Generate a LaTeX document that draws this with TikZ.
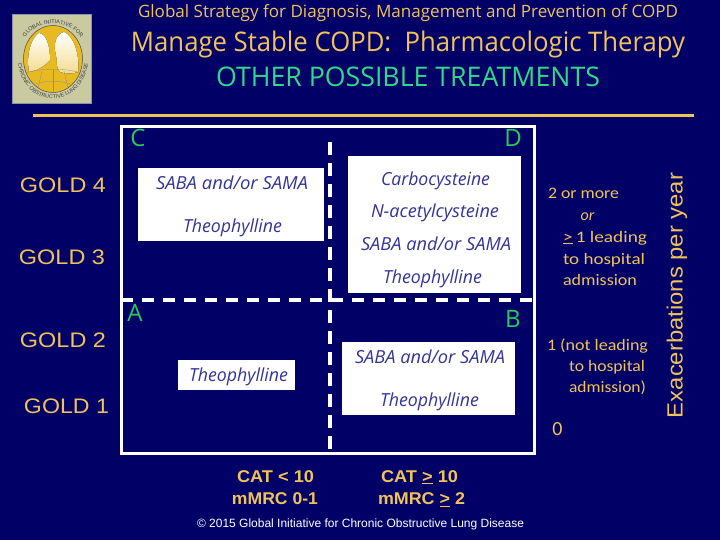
\documentclass[tikz,border=0pt]{standalone}
\usepackage{graphicx}
\usepackage{fontspec}
\setmainfont{Liberation Sans}
\newfontfamily\tahomaish{Open Sans}
\newfontfamily\calibriish{Carlito}
\usetikzlibrary{decorations.text}
\definecolor{bgblue}{HTML}{000066}
\definecolor{goldtxt}{HTML}{F0C35A}
\definecolor{titlegreen}{HTML}{2FD88C}
\definecolor{lettergreen}{HTML}{24CC5A}
\definecolor{drugblue}{HTML}{333399}
\definecolor{logobg}{HTML}{C9C9A2}
\definecolor{logoedge}{HTML}{8C92A8}
\definecolor{lungyellow}{HTML}{E8BA22}
\newcommand{\fitw}[2]{\resizebox{#1pt}{\height}{#2}}
\newcommand{\fs}[1]{\fontsize{#1}{#1}\selectfont}
\tikzset{
  lbl/.style={inner sep=0pt,anchor=base},
  gold/.style={lbl,text=goldtxt},
  goldlevel/.style={gold,font=\fs{21}},
  cattext/.style={gold,font=\bfseries\fs{17}},
  exa/.style={gold,font=\calibriish\fs{16}},
  grouplet/.style={lbl,text=lettergreen,font=\tahomaish\fs{24}},
  drug/.style={lbl,text=drugblue,font=\tahomaish\itshape\fs{18}},
  whitebox/.style={fill=white,draw=none},
  frameline/.style={draw=white,line width=3pt},
  vdash/.style={draw=white,line width=4pt,dash pattern=on 13pt off 8pt},
  hdash/.style={draw=white,line width=4.5pt,dash pattern=on 12pt off 9pt}
}
\begin{document}
\begin{tikzpicture}[x=1pt,y=-1pt]
\useasboundingbox (0,0) rectangle (720,540);
\fill[bgblue] (0,0) rectangle (720,540);
% logo
\fill[logobg,draw=logoedge,line width=0.6pt] (12.5,14.5) rectangle (91.5,103.5);
\fill[lungyellow,draw=black!70,line width=0.5pt] (53,59) ellipse [x radius=29.5,y radius=33.5];
\fill[top color=white,bottom color=lungyellow!50!white]
  (39,33) .. controls (31,38) and (26,55) .. (29,72) .. controls (36,71) and (44,67) .. (50,60)
  .. controls (50,48) and (47,34) .. (39,33) -- cycle;
\fill[top color=white,bottom color=lungyellow!50!white]
  (64,32) .. controls (56,34) and (53,44) .. (56,55) .. controls (58,62) and (55,66) .. (60,72)
  .. controls (66,74) and (72,74) .. (78,72) .. controls (80,56) and (74,36) .. (64,32) -- cycle;
\draw[black!45,line width=0.3pt] (25,73) .. controls (40,68) and (66,68) .. (81,73);
\draw[black!45,line width=0.3pt] (33,85) .. controls (45,80) and (61,80) .. (73,85);
\draw[black!45,line width=0.3pt] (53,70) -- (53,92);
\draw[black!45,line width=0.3pt] (42,71) -- (38,88);
\draw[black!45,line width=0.3pt] (64,71) -- (68,88);
\begin{scope}[y=1pt]
\path[decorate,decoration={text along path,text align=center,
  text={|\fs{5.5}\color{black!75}|GLOBAL INITIATIVE FOR}}]
  (21,-50) .. controls (24,-15) and (82,-15) .. (85,-50);
\path[decorate,decoration={text along path,text align=center,
  text={|\fs{5.5}\color{black!75}|CHRONIC OBSTRUCTIVE LUNG DISEASE}}]
  (17,-50) .. controls (15,-115) and (91,-115) .. (89,-50);
\end{scope}
% titles
\node[gold,font=\tahomaish\fs{17}] (t1) at (408,17.5) {\fitw{540}{Global Strategy for Diagnosis, Management and Prevention of COPD}};
\node[gold,font=\tahomaish\fs{27}] (t2) at (408,51.5) {\fitw{554}{Manage Stable COPD:\ \ Pharmacologic Therapy}};
\node[lbl,text=titlegreen,font=\tahomaish\fs{27}] (t3) at (408,86.5) {\fitw{384}{OTHER POSSIBLE TREATMENTS}};
\fill[goldtxt] (33,114) rectangle (694,117);
% white boxes
\fill[whitebox] (138,168) rectangle (324,241);
\fill[whitebox] (348,156) rectangle (521,293);
\fill[whitebox] (178,360) rectangle (295,390);
\fill[whitebox] (342,342) rectangle (515,415);
% frame and dashed dividers
\coordinate (vt) at (330,142);
\coordinate (vb) at (330,449);
\coordinate (hl) at (121,300);
\coordinate (hr) at (533,300);
\draw[vdash] (vt) -- (vb);
\draw[hdash] (hl) -- (hr);
\draw[frameline] (121,127) rectangle (534.5,453.5);
% group letters
\node[grouplet] (gc) at (138,146.5) {C};
\node[grouplet] (gd) at (513,146.5) {D};
\node[grouplet] (ga) at (135,321) {A};
\node[grouplet] (gb) at (513,327) {B};
% drugs
\node[drug] (c1) at (232,190) {\fitw{152}{SABA and/or SAMA}};
\node[drug] (c2) at (232.5,232.5) {\fitw{99}{Theophylline}};
\node[drug] (d1) at (435.5,185.5) {\fitw{109}{Carbocysteine}};
\node[drug] (d2) at (435,218) {\fitw{128}{N-acetylcysteine}};
\node[drug] (d3) at (436,250.5) {\fitw{150}{SABA and/or SAMA}};
\node[drug] (d4) at (432.5,283) {\fitw{99}{Theophylline}};
\node[drug] (a1) at (238.5,381.5) {\fitw{99}{Theophylline}};
\node[drug] (b1) at (430,363) {\fitw{150}{SABA and/or SAMA}};
\node[drug] (b2) at (429.5,406) {\fitw{99}{Theophylline}};
% GOLD levels
\node[goldlevel] (g4) at (63,193) {\fitw{86}{GOLD 4}};
\node[goldlevel] (g3) at (62,264) {\fitw{86}{GOLD 3}};
\node[goldlevel] (g2) at (63,347) {\fitw{86}{GOLD 2}};
\node[goldlevel] (g1) at (66.5,413) {\fitw{85}{GOLD 1}};
% exacerbation labels
\node[exa] (e1) at (583.5,199) {\fitw{71}{2 or more}};
\node[exa,font=\calibriish\itshape\fs{16}] (e2) at (587.5,220.5) {or};
\node[exa] (e3) at (605,242) {\fitw{84}{\underline{>}\,1 leading}};
\node[exa] (e4) at (604,264) {\fitw{82}{to hospital}};
\node[exa] (e5) at (600,285) {\fitw{74}{admission}};
\node[exa] (e6) at (597.5,350) {\fitw{101}{1 (not leading}};
\node[exa] (e7) at (607,371.5) {\fitw{76}{to hospital}};
\node[exa] (e8) at (607.5,392.5) {\fitw{77}{admission)}};
\node[gold,font=\calibriish\fs{20}] (e0) at (557.5,435.5) {0};
\node[gold,font=\fs{22},rotate=90] (ey) at (682.7,295.5) {\fitw{245}{Exacerbations per year}};
% CAT labels
\node[cattext] (cat1) at (275.5,482) {\fitw{77}{CAT < 10}};
\node[cattext] (mm1) at (275,504.5) {\fitw{86}{mMRC 0-1}};
\node[cattext] (cat2) at (419.5,482) {\fitw{77}{CAT \underline{>} 10}};
\node[cattext] (mm2) at (421.5,504.5) {\fitw{87}{mMRC \underline{>} 2}};
\node[lbl,text=white,font=\fs{12}] (copy) at (360.5,527.5) {\fitw{327}{© 2015 Global Initiative for Chronic Obstructive Lung Disease}};
\end{tikzpicture}
\end{document}
